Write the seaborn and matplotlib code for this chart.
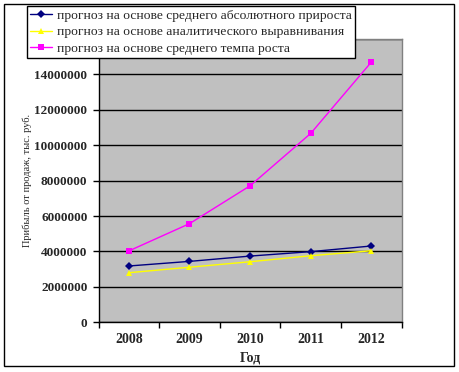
import matplotlib.pyplot as plt
import matplotlib.ticker as mticker
from matplotlib.patches import Rectangle
import seaborn as sns
import pandas as pd

# ==========================================
# Данные (прочитаны с исходного графика)
# ==========================================
years = [2008, 2009, 2010, 2011, 2012]
abs_growth = [3180000, 3440000, 3740000, 3990000, 4310000]
analytic = [2800000, 3110000, 3420000, 3760000, 4040000]
growth_rate = [4030000, 5570000, 7710000, 10670000, 14700000]

names = ["прогноз на основе среднего абсолютного прироста",
         "прогноз на основе аналитического выравнивания",
         "прогноз на основе среднего темпа роста"]

df = pd.DataFrame({
    "Год": years * 3,
    "Прибыль": abs_growth + analytic + growth_rate,
    "Серия": [names[0]] * 5 + [names[1]] * 5 + [names[2]] * 5,
})

# ==========================================
# Оформление
# ==========================================
sns.set_theme(style="white")
plt.rcParams["font.family"] = ["Liberation Serif", "DejaVu Serif"]

fig = plt.figure(figsize=(4.59, 3.72), dpi=100)
ax = fig.add_axes([0.2146, 0.1336, 0.6606, 0.7616])
ax.set_facecolor("#C0C0C0")

palette = {names[0]: "#000080", names[1]: "#FFFF00", names[2]: "#FF00FF"}
markers = {names[0]: "D", names[1]: "^", names[2]: "s"}

sns.lineplot(data=df, x="Год", y="Прибыль", hue="Серия", style="Серия",
             palette=palette, markers=markers, dashes=False,
             markersize=4.5, linewidth=1, markeredgewidth=0, ax=ax)

ax.set_xlim(2007.5, 2012.5)
ax.set_ylim(0, 16000000)
ax.set_yticks(range(0, 16000001, 2000000))
ax.yaxis.set_major_formatter(mticker.FuncFormatter(lambda v, p: f"{int(v)}"))
ax.grid(axis="y", color="black", linewidth=1)
ax.set_axisbelow(True)

ax.set_xticks(years)
ax.set_xticklabels([str(y) for y in years])
ax.xaxis.set_minor_locator(mticker.FixedLocator([2007.5 + i for i in range(6)]))
ax.tick_params(axis="x", which="major", length=0, pad=8, labelsize=10)
ax.tick_params(axis="x", which="minor", length=4, width=1, color="black", direction="out", bottom=True)
ax.tick_params(axis="y", length=4, width=1, color="black", direction="out", left=True, labelsize=9.5, pad=4)
for lab in ax.get_xticklabels() + ax.get_yticklabels():
    lab.set_fontweight("bold")

for s in ["top", "right"]:
    ax.spines[s].set_color("#808080")
for s in ["left", "bottom"]:
    ax.spines[s].set_color("black")
for s in ax.spines.values():
    s.set_linewidth(1)

ax.set_xlabel("Год", fontsize=10, fontweight="bold", labelpad=4)
ax.set_ylabel("Прибыль от продаж, тыс. руб.", fontsize=7.5, labelpad=2)

leg = ax.legend(loc="upper left", bbox_to_anchor=(27 / 459, 1 - 6 / 372),
                bbox_transform=fig.transFigure, fontsize=9.7, frameon=True,
                fancybox=False, edgecolor="black", framealpha=1,
                handlelength=1.6, handletextpad=0.35, borderpad=0.25,
                labelspacing=0.3, borderaxespad=0)
leg.get_frame().set_linewidth(1)

fig.patches.append(Rectangle((4 / 459, 6 / 372), 450 / 459, 362 / 372,
                             transform=fig.transFigure, fill=False,
                             edgecolor="black", linewidth=1))

plt.savefig("out.png", dpi=100)
